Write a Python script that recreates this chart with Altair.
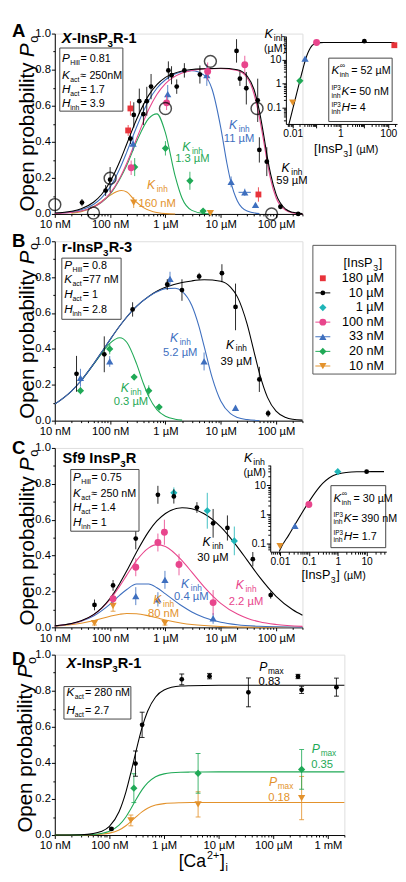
import altair as alt
import pandas as pd

FONT = "Liberation Sans"

# ------------------------------------------------------------------ tick labels
X_TICKS = [0.01, 0.1, 1, 10, 100, 1000]
X_TICK_LABELS = ["10 nM", "100 nM", "1 µM", "10 µM", "100 µM", "1 mM"]
Y_TICKS = [0.0, 0.2, 0.4, 0.6, 0.8, 1.0]
Y_TICK_LABELS = ["0.0", "0.2", "0.4", "0.6", "0.8", "1.0"]
INSET_A_X_TICKS = [0.01, 1, 100]
INSET_A_X_LABELS = ["0.01", "1", "100"]
INSET_C_X_TICKS = [0.01, 0.1, 1, 10]
INSET_C_X_LABELS = ["0.01", "0.1", "1", "10"]
INSET_Y_TICKS = [0.1, 1, 10]
INSET_Y_LABELS = ["0.1", "1", "10"]
LEGEND_LABELS = ["180 µM", "10 µM", "1 µM", "100 nM", "33 nM", "20 nM", "10 nM"]
LEGEND_HAS_LINE = [False, True, False, True, True, True, True]

# ------------------------------------------------------------------ panel A  (x: [Ca2+] in µM, y: Po)
A_10UM_X = [0.031, 0.083, 0.1, 0.233, 0.268, 0.337, 0.40, 0.46, 0.55, 1.13, 1.29, 1.6, 2.2, 4.2, 19.3, 22.2, 29, 46.6, 49.9, 68, 120, 251]
A_10UM_Y = [0.063, 0.13, 0.19, 0.418, 0.549, 0.625, 0.553, 0.625, 0.706, 0.796, 0.769, 0.706, 0.796, 0.773, 0.904, 0.75, 0.697, 0.63, 0.355, 0.29, 0.04, 0.0]
A_10UM_E = [0.02, 0.03, 0.07, 0.03, 0.07, 0.07, 0.06, 0.08, 0.07, 0.05, 0.05, 0.04, 0.04, 0.05, 0.065, 0.04, 0.09, 0.12, 0.07, 0.08, 0.01, 0.0]
A_180UM_X = [0.212, 0.233, 48]
A_180UM_Y = [0.463, 0.585, 0.108]
A_180UM_E = [0.03, 0.04, 0.04]
A_100NM_X = [0.24, 1.05, 5.8, 27.2]
A_100NM_Y = [0.256, 0.616, 0.79, 0.827]
A_100NM_E = [0.04, 0.04, 0.05, 0.05]
A_33NM_X = [0.26, 1.1, 5.6, 15.4, 27.2, 42.5]
A_33NM_Y = [0.39, 0.665, 0.77, 0.178, 0.12, 0.05]
A_33NM_E = [0.04, 0.05, 0.06, 0.03, 0.02, 0.01]
A_33NM_HBAR_X1 = [21.0]
A_33NM_HBAR_X2 = [35.0]
A_33NM_HBAR_Y = [0.12]
A_20NM_X = [0.278, 1.0, 2.77, 4.8]
A_20NM_Y = [0.26, 0.364, 0.184, 0.016]
A_20NM_E = [0.05, 0.04, 0.05, 0.01]
A_10NM_X = [0.267, 6.5]
A_10NM_Y = [0.063, 0.005]
A_10NM_E = [0.03, 0.005]
A_OPEN_X = [0.01, 0.05, 0.1, 1.0, 6.5, 45.3, 83]
A_OPEN_Y = [0.052, 0.005, 0.198, 0.585, 0.846, 0.585, 0.0]

A_FIT_10UM_X = [0.01, 0.02, 0.03, 0.05, 0.07, 0.1, 0.15, 0.2, 0.3, 0.5, 0.7, 1, 2, 3, 5, 10, 20, 30, 40, 50, 60, 70, 80, 100, 150, 200, 300]
A_FIT_10UM_Y = [0.005, 0.015, 0.029, 0.065, 0.108, 0.179, 0.292, 0.388, 0.524, 0.659, 0.717, 0.757, 0.793, 0.801, 0.805, 0.808, 0.80, 0.765, 0.69, 0.57, 0.435, 0.31, 0.22, 0.11, 0.026, 0.009, 0.002]
A_FIT_100NM_X = [0.01, 0.02, 0.03, 0.05, 0.07, 0.1, 0.15, 0.2, 0.3, 0.5, 0.7, 1, 2, 3, 5, 10, 20, 30, 40, 50, 60, 70, 80, 100, 150, 200, 300]
A_FIT_100NM_Y = [0.0026, 0.0085, 0.0168, 0.039, 0.0664, 0.114, 0.199, 0.281, 0.416, 0.58, 0.662, 0.722, 0.781, 0.795, 0.804, 0.806, 0.795, 0.755, 0.665, 0.535, 0.40, 0.28, 0.19, 0.09, 0.02, 0.006, 0.001]
A_FIT_33NM_X = [0.01, 0.02, 0.03, 0.05, 0.07, 0.1, 0.15, 0.2, 0.3, 0.5, 0.7, 1, 2, 3, 5, 7, 10, 13, 15, 20, 30, 50]
A_FIT_33NM_Y = [0.0036, 0.0117, 0.0229, 0.0526, 0.0888, 0.149, 0.252, 0.343, 0.481, 0.629, 0.697, 0.744, 0.788, 0.794, 0.770, 0.69, 0.479, 0.277, 0.186, 0.072, 0.016, 0.002]
A_FIT_20NM_X = [0.02, 0.03, 0.05, 0.07, 0.1, 0.15, 0.2, 0.3, 0.5, 0.7, 1, 1.5, 2, 3, 5, 7]
A_FIT_20NM_Y = [0.0084, 0.0165, 0.038, 0.065, 0.11, 0.194, 0.27, 0.40, 0.53, 0.555, 0.45, 0.21, 0.087, 0.02, 0.003, 0.001]
A_FIT_10NM_X = [0.02, 0.03, 0.05, 0.07, 0.1, 0.13, 0.16, 0.2, 0.27, 0.3, 0.4, 0.6, 1, 1.5]
A_FIT_10NM_Y = [0.004, 0.012, 0.04, 0.07, 0.103, 0.123, 0.13, 0.122, 0.08, 0.065, 0.035, 0.012, 0.002, 0.0]

# inset A: Kinh (µM) vs [InsP3] (µM)
IA_KEYS = ["10 nM", "20 nM", "33 nM", "100 nM", "10 µM", "180 µM"]
IA_X = [0.01, 0.02, 0.033, 0.1, 10, 180]
IA_Y = [0.16, 1.3, 11, 52, 59, 40]
IA_FIT_X = [0.007, 0.008, 0.01, 0.015, 0.02, 0.025, 0.03, 0.035, 0.04, 0.05, 0.06, 0.07, 0.08, 0.1, 0.15, 0.2, 1, 10, 180]
IA_FIT_Y = [0.02, 0.034, 0.083, 0.42, 1.3, 3.1, 6.2, 10.3, 15.6, 26, 35.1, 41.3, 45.1, 48.9, 51.4, 51.8, 52, 52, 52]

# ------------------------------------------------------------------ panel B
B_10UM_X = [0.0247, 0.0784, 0.255, 1.08, 1.99, 4.07, 10.5, 18.5, 49.9, 71.9]
B_10UM_Y = [0.261, 0.37, 0.62, 0.759, 0.728, 0.804, 0.822, 0.634, 0.23, 0.04]
B_10UM_E = [0.1, 0.1, 0.04, 0.03, 0.06, 0.02, 0.05, 0.13, 0.07, 0.02]
B_33NM_X = [0.0291, 0.0984, 1.21, 5.0, 18.5]
B_33NM_Y = [0.239, 0.33, 0.79, 0.33, 0.072]
B_33NM_E = [0.05, 0.03, 0.04, 0.05, 0.01]
B_20NM_X = [0.0291, 0.0984, 0.272, 0.50, 0.77]
B_20NM_Y = [0.167, 0.40, 0.243, 0.167, 0.076]
B_20NM_E = [0.02, 0.03, 0.015, 0.03, 0.015]

B_FIT_10UM_X = [0.01, 0.02, 0.03, 0.05, 0.07, 0.1, 0.15, 0.2, 0.3, 0.5, 0.7, 1, 2, 3, 5, 10, 15, 20, 30, 40, 50, 70, 100, 150, 200, 300]
B_FIT_10UM_Y = [0.092, 0.165, 0.224, 0.315, 0.381, 0.452, 0.529, 0.578, 0.637, 0.693, 0.721, 0.743, 0.770, 0.779, 0.785, 0.777, 0.744, 0.690, 0.538, 0.384, 0.265, 0.13, 0.053, 0.018, 0.008, 0.003]
B_FIT_33NM_X = [0.01, 0.02, 0.03, 0.05, 0.07, 0.1, 0.15, 0.2, 0.3, 0.5, 0.7, 1, 1.5, 2, 3, 4, 5, 7, 10, 15, 20, 30, 50]
B_FIT_33NM_Y = [0.092, 0.165, 0.224, 0.315, 0.381, 0.452, 0.529, 0.578, 0.637, 0.692, 0.718, 0.736, 0.738, 0.721, 0.642, 0.53, 0.416, 0.24, 0.11, 0.039, 0.018, 0.006, 0.001]
B_FIT_20NM_X = [0.03, 0.05, 0.07, 0.1, 0.15, 0.2, 0.3, 0.4, 0.5, 0.7, 1, 1.5, 2]
B_FIT_20NM_Y = [0.222, 0.313, 0.374, 0.432, 0.462, 0.437, 0.318, 0.207, 0.134, 0.062, 0.025, 0.008, 0.003]

# ------------------------------------------------------------------ panel C
C_10UM_X = [0.0522, 0.113, 0.291, 0.731, 1.42, 3.71, 7.28, 13.2, 38, 80]
C_10UM_Y = [0.125, 0.234, 0.495, 0.739, 0.73, 0.668, 0.58, 0.554, 0.38, 0.18]
C_10UM_E = [0.03, 0.03, 0.06, 0.05, 0.04, 0.03, 0.08, 0.07, 0.04, 0.02]
C_1UM_X = [1.42, 5.71, 17.6]
C_1UM_Y = [0.75, 0.65, 0.482]
C_1UM_E = [0.03, 0.1, 0.08]
C_100NM_X = [0.113, 0.291, 0.731, 0.958, 1.76, 7.28]
C_100NM_Y = [0.16, 0.335, 0.473, 0.53, 0.35, 0.138]
C_100NM_E = [0.03, 0.05, 0.05, 0.07, 0.06, 0.07]
C_33NM_X = [0.291, 0.731, 0.98, 7.28]
C_33NM_Y = [0.174, 0.156, 0.265, 0.05]
C_33NM_E = [0.05, 0.04, 0.05, 0.03]
C_10NM_X = [0.0522, 0.113, 0.98]
C_10NM_Y = [0.023, 0.12, 0.023]
C_10NM_E = [0.01, 0.03, 0.01]

C_FIT_10UM_X = [0.01, 0.02, 0.03, 0.05, 0.07, 0.1, 0.15, 0.2, 0.3, 0.5, 0.7, 1, 2, 3, 5, 10, 20, 30, 50, 100, 200, 300]
C_FIT_10UM_Y = [0.0082, 0.0212, 0.0366, 0.0712, 0.1076, 0.162, 0.246, 0.315, 0.419, 0.535, 0.593, 0.635, 0.667, 0.661, 0.633, 0.56, 0.449, 0.375, 0.281, 0.173, 0.098, 0.068]
C_FIT_100NM_X = [0.01, 0.03, 0.05, 0.1, 0.15, 0.2, 0.3, 0.5, 0.7, 1, 2, 3, 5, 10, 20, 30, 50, 100, 300]
C_FIT_100NM_Y = [0.0082, 0.0361, 0.0697, 0.156, 0.231, 0.291, 0.372, 0.443, 0.461, 0.451, 0.372, 0.308, 0.226, 0.134, 0.074, 0.051, 0.031, 0.016, 0.0055]
C_FIT_33NM_X = [0.01, 0.03, 0.05, 0.1, 0.15, 0.2, 0.3, 0.5, 0.7, 1, 2, 3, 5, 10, 20, 50, 100, 300]
C_FIT_33NM_Y = [0.008, 0.034, 0.0634, 0.130, 0.18, 0.211, 0.242, 0.242, 0.221, 0.187, 0.119, 0.086, 0.055, 0.029, 0.015, 0.006, 0.003, 0.001]
C_FIT_10NM_X = [0.01, 0.03, 0.05, 0.1, 0.15, 0.2, 0.3, 0.5, 0.7, 1, 2, 3, 5, 10, 20, 50, 100, 300]
C_FIT_10NM_Y = [0.006, 0.023, 0.037, 0.062, 0.073, 0.077, 0.076, 0.064, 0.053, 0.041, 0.023, 0.016, 0.01, 0.005, 0.0025, 0.001, 0.0005, 0.0002]

# inset C
IC_KEYS = ["10 nM", "33 nM", "100 nM", "1 µM", "10 µM"]
IC_X = [0.01, 0.033, 0.1, 1, 10]
IC_Y = [0.08, 0.4, 2.2, 30, 30]
IC_FIT_X = [0.0095, 0.01, 0.02, 0.033, 0.05, 0.1, 0.2, 0.3, 0.5, 0.7, 1, 2, 3, 5, 10, 20, 40]
IC_FIT_Y = [0.052, 0.059, 0.191, 0.444, 0.886, 2.7, 7.29, 11.7, 18.1, 21.9, 25, 28.2, 29.1, 29.6, 29.9, 30, 30]

# ------------------------------------------------------------------ panel D
D_10UM_X = [0.1086, 0.30, 0.397, 2.11, 6.8, 35, 283, 330, 1430]
D_10UM_Y = [0.034, 0.396, 0.611, 0.863, 0.881, 0.791, 0.879, 0.805, 0.82]
D_10UM_E = [0.005, 0.07, 0.07, 0.03, 0.015, 0.08, 0.012, 0.02, 0.05]
D_20NM_X = [0.28, 4.2, 330]
D_20NM_Y = [0.26, 0.342, 0.364]
D_20NM_E = [0.08, 0.11, 0.11]
D_10NM_X = [0.247, 4.2, 330]
D_10NM_Y = [0.081, 0.17, 0.205]
D_10NM_E = [0.03, 0.07, 0.12]
D_FIT_X = [0.01, 0.03, 0.05, 0.07, 0.1, 0.15, 0.2, 0.25, 0.3, 0.4, 0.5, 0.7, 1, 2, 3, 10, 100, 2000]
D_FIT_10UM_Y = [0.0001, 0.002, 0.0078, 0.0192, 0.0486, 0.129, 0.238, 0.352, 0.453, 0.601, 0.686, 0.765, 0.804, 0.826, 0.828, 0.83, 0.83, 0.83]
D_FIT_20NM_Y = [0.0, 0.0008, 0.0033, 0.0081, 0.0205, 0.0546, 0.10, 0.148, 0.191, 0.253, 0.289, 0.323, 0.339, 0.348, 0.349, 0.35, 0.35, 0.35]
D_FIT_10NM_Y = [0.0, 0.0004, 0.0017, 0.0042, 0.0105, 0.028, 0.0517, 0.0763, 0.098, 0.13, 0.149, 0.166, 0.174, 0.179, 0.18, 0.18, 0.18, 0.18]

# ------------------------------------------------------------------ styles
BLACK = "#000000"
RED = "#e8333a"
PINK = "#e8458c"
BLUE = "#3e6fbf"
GREEN = "#1fa956"
ORANGE = "#e3922c"
CYAN = "#1fb5b8"
STY = {
    "180 µM": (RED, "square", 36),
    "10 µM": (BLACK, "circle", 24),
    "1 µM": (CYAN, "diamond", 55),
    "100 nM": (PINK, "circle", 50),
    "33 nM": (BLUE, "triangle-up", 55),
    "20 nM": (GREEN, "diamond", 55),
    "10 nM": (ORANGE, "triangle-down", 55),
}

MAJOR_LOG = "abs(log(datum.value)/LN10 - round(log(datum.value)/LN10)) < 0.001"
MAJOR_LIN = "abs(datum.value*5 - round(datum.value*5)) < 0.001"


def log_ticks(lo, hi):
    out = []
    for k in range(-4, 5):
        for m in range(1, 10):
            v = float(f"{m * 10.0 ** k:.6g}")
            if lo * 0.999 <= v <= hi * 1.001:
                out.append(v)
    return out


def lbl_expr(vals, labels):
    s = ""
    for v, l in zip(vals, labels):
        s += f"abs(datum.value - {v}) < {abs(v) * 1e-3 + 1e-9} ? '{l}' : "
    return s + "''"


def make_axis(values, lab_vals, labels, test, orient, offset=None, lsize=11.5, tmaj=3.5, tmin=2, lpad=1.5):
    kw = dict(values=values, labelExpr=lbl_expr(lab_vals, labels),
              tickSize={"condition": {"test": test, "value": tmaj}, "value": tmin},
              orient=orient, title=None, grid=False, labelOverlap=False, labelFlush=False,
              labelFont=FONT, labelFontSize=lsize, labelColor="black",
              tickColor="black", domainColor="black", tickWidth=1, domainWidth=1, labelPadding=lpad)
    if offset is not None:
        kw["offset"] = offset
    return alt.Axis(**kw)


class Panel:
    def __init__(self, xs, ys, xa, ya):
        self.xs, self.ys, self.xa, self.ya = xs, ys, xa, ya

    def X(self, f="x"):
        return alt.X(f"{f}:Q", scale=self.xs, axis=self.xa)

    def Y(self, f="y"):
        return alt.Y(f"{f}:Q", scale=self.ys, axis=self.ya)


def seg(x, y, t, c=BLACK, size=11, style="normal", weight="normal", dx=0, dy=0, align="left", angle=0):
    return dict(x=x, y=y, t=t, c=c, size=size, style=style, weight=weight, dx=dx, dy=dy, align=align, angle=angle)


def text_layers(segs, P):
    groups = {}
    for s in segs:
        key = (s["size"], s["style"], s["weight"], s["dx"], s["dy"], s["align"], s["angle"])
        groups.setdefault(key, []).append(s)
    out = []
    for (size, style, weight, dx, dy, align, angle), items in groups.items():
        df = pd.DataFrame({"x": [i["x"] for i in items], "y": [i["y"] for i in items],
                           "t": [i["t"] for i in items], "c": [i["c"] for i in items]})
        m = alt.Chart(df).mark_text(font=FONT, fontSize=size, fontStyle=style, fontWeight=weight,
                                    dx=dx, dy=dy, align=align, baseline="alphabetic", angle=angle)
        out.append(m.encode(x=P.X(), y=P.Y(), text="t:N", color=alt.Color("c:N", scale=None)))
    return out


def curve(xs, ys, color, P, width=1.1):
    df = pd.DataFrame({"x": xs, "y": ys})
    return alt.Chart(df).mark_line(color=color, strokeWidth=width, interpolate="monotone").encode(x=P.X(), y=P.Y())


def series(xs, ys, es, key, P, caps=False):
    color, shape, size = STY[key]
    df = pd.DataFrame({"x": xs, "y": ys,
                       "lo": [a - b for a, b in zip(ys, es)],
                       "hi": [a + b for a, b in zip(ys, es)]})
    out = [alt.Chart(df).mark_rule(color=color, strokeWidth=1, opacity=0.85).encode(
        x=P.X(), y=P.Y("lo"), y2=alt.Y2("hi:Q"))]
    if caps:
        for f in ("lo", "hi"):
            out.append(alt.Chart(df).mark_tick(color=color, orient="horizontal", size=5, thickness=1,
                                               opacity=0.85).encode(x=P.X(), y=P.Y(f)))
    out.append(alt.Chart(df).mark_point(shape=shape, filled=True, size=size, color=color, opacity=1,
                                        strokeWidth=0).encode(x=P.X(), y=P.Y()))
    return out


def box(x1, x2, y1, y2, P, stroke="#444444"):
    df = pd.DataFrame({"x": [x1], "x2": [x2], "y": [y1], "y2": [y2]})
    return alt.Chart(df).mark_rect(fill="white", stroke=stroke, strokeWidth=1).encode(
        x=P.X(), x2=alt.X2("x2:Q"), y=P.Y(), y2=alt.Y2("y2:Q"))


def kinh(x, y1, y2, val, c, letter="K", sub="inh", subw=-0.5):
    return [seg(x, y1, letter, c, 12.5, "italic", dx=-10.5),
            seg(x, y1, sub, c, 8.5, dx=subw, dy=3),
            seg(x, y2, val, c, 11.5, align="center")]


def params(x, ys, rows):
    out = []
    for y, (L, S, R) in zip(ys, rows):
        out += [seg(x, y, L, size=12, style="italic"), seg(x, y, S, size=7, dx=8.5, dy=3),
                seg(x, y, R, size=11, dx=19)]
    return out


def bold_title(x, y, parts):
    out = []
    for t, dx, sub, it in parts:
        out.append(seg(x, y, t, size=10 if sub else 15, weight="bold", style="italic" if it else "normal",
                       dx=dx, dy=4 if sub else 0))
    return out


def ytitle(x):
    return [seg(x, 0.5, "Open probability", size=21, dx=-90, angle=270),
            seg(x, 0.5, "P", size=21, style="italic", dx=68.5, angle=270),
            seg(x, 0.5, "o", size=13, dx=83, dy=4, angle=270)]


def letter(x, y, t):
    return [seg(x, y, t, size=19, weight="bold")]


def inset_params(x, ys, kinf, kval, hval):
    return [seg(x, ys[0], "K", size=12, style="italic"), seg(x, ys[0], "∞", size=8, dx=8.5, dy=-6),
            seg(x, ys[0], "inh", size=7, dx=8.5, dy=3), seg(x, ys[0], "= " + kinf, size=11, dx=20.5),
            seg(x, ys[1], "IP3", size=6.5, dy=-5), seg(x, ys[1], "inh", size=7, dy=3),
            seg(x, ys[1], "K", size=12, style="italic", dx=10.5), seg(x, ys[1], "= " + kval, size=11, dx=19),
            seg(x, ys[2], "IP3", size=6.5, dy=-5), seg(x, ys[2], "inh", size=7, dy=3),
            seg(x, ys[2], "H", size=12, style="italic", dx=10.5), seg(x, ys[2], "= " + hval, size=11, dx=19.5)]


def inset_titles(xmin, ky, uy, kdx, udx, tx, ty):
    return [seg(xmin, ky, "K", size=13, style="italic", dx=kdx),
            seg(xmin, ky, "inh", size=9, dx=kdx + 9.5, dy=3),
            seg(xmin, uy, "(µM)", size=11, dx=udx, align="center"),
            seg(tx, ty, "[InsP", size=13), seg(tx, ty, "3", size=9, dx=30, dy=4),
            seg(tx, ty, "]", size=13, dx=35.5), seg(tx, ty, "(µM)", size=11, dx=43)]


def inset_points(keys, xs, ys, P):
    out = []
    for k, x, y in zip(keys, xs, ys):
        color, shape, size = STY[k]
        df = pd.DataFrame({"x": [x], "y": [y]})
        out.append(alt.Chart(df).mark_point(shape=shape, filled=True, size=size, color=color, opacity=1,
                                            strokeWidth=0).encode(x=P.X(), y=P.Y()))
    return out


Y_VALUES = [round(i * 0.1, 1) for i in range(11)]
YAX = make_axis(Y_VALUES, Y_TICKS, Y_TICK_LABELS, MAJOR_LIN, "left", lpad=1)


def main_panel(hi):
    return Panel(alt.Scale(type="log", domain=[0.01, hi], nice=False),
                 alt.Scale(domain=[0, 1], nice=False, zero=False),
                 make_axis(log_ticks(0.01, hi), X_TICKS, X_TICK_LABELS, MAJOR_LOG, "bottom"), YAX)


# ================================================================== panel A
PA = main_panel(300)
a = []
a.append(curve(A_FIT_10NM_X, A_FIT_10NM_Y, ORANGE, PA))
a.append(curve(A_FIT_20NM_X, A_FIT_20NM_Y, GREEN, PA))
a.append(curve(A_FIT_33NM_X, A_FIT_33NM_Y, BLUE, PA))
a.append(curve(A_FIT_100NM_X, A_FIT_100NM_Y, PINK, PA))
a.append(curve(A_FIT_10UM_X, A_FIT_10UM_Y, BLACK, PA))
hb = pd.DataFrame({"x": A_33NM_HBAR_X1, "x2": A_33NM_HBAR_X2, "y": A_33NM_HBAR_Y})
a.append(alt.Chart(hb).mark_rule(color=BLUE, strokeWidth=1).encode(x=PA.X(), x2=alt.X2("x2:Q"), y=PA.Y()))
a += series(A_10NM_X, A_10NM_Y, A_10NM_E, "10 nM", PA)
a += series(A_20NM_X, A_20NM_Y, A_20NM_E, "20 nM", PA)
a += series(A_33NM_X, A_33NM_Y, A_33NM_E, "33 nM", PA)
a += series(A_100NM_X, A_100NM_Y, A_100NM_E, "100 nM", PA)
a += series(A_180UM_X, A_180UM_Y, A_180UM_E, "180 µM", PA)
a += series(A_10UM_X, A_10UM_Y, A_10UM_E, "10 µM", PA)
a.append(alt.Chart(pd.DataFrame({"x": A_OPEN_X, "y": A_OPEN_Y})).mark_point(
    shape="circle", filled=False, size=150, color=BLACK, strokeWidth=1.5).encode(x=PA.X(), y=PA.Y()))
a.append(box(0.0123, 0.17, 0.57, 0.92, PA))
segsA = []
segsA += letter(0.00168, 0.98, "A")
segsA += ytitle(0.00426)
segsA += bold_title(0.0134, 0.95, [("X", 0, False, True), ("-InsP", 10.5, False, False),
                                   ("3", 46.8, True, False), ("R-1", 52.5, False, False)])
segsA += params(0.0135, [0.841, 0.748, 0.67, 0.592],
                [("P", "Hill", "= 0.81"), ("K", "act", "≈ 250nM"), ("H", "act", "= 1.7"), ("H", "inh", "= 3.9")])
segsA += kinh(0.711, 0.138, 0.039, "160 nM", ORANGE)
segsA += kinh(3.07, 0.351, 0.288, "1.3 µM", GREEN)
segsA += kinh(21.5, 0.472, 0.40, "11 µM", BLUE)
segsA += kinh(193, 0.232, 0.165, "59 µM", BLACK)
a += text_layers(segsA, PA)
a_main = alt.layer(*a)

PIA = Panel(alt.Scale(type="log", domain=[0.0052, 233], range=[237, 351], nice=False),
            alt.Scale(type="log", domain=[0.0203, 95], range=[92.7, 2.7], nice=False),
            make_axis(log_ticks(0.0052, 233), INSET_A_X_TICKS, INSET_A_X_LABELS, MAJOR_LOG, "bottom",
                      offset=-92.3, lsize=10.5, tmaj=4, tmin=2.5, lpad=1),
            make_axis(log_ticks(0.0203, 95), INSET_Y_TICKS, INSET_Y_LABELS, MAJOR_LOG, "left",
                      offset=-237, lsize=10.5, tmaj=4, tmin=2.5, lpad=1))
ia = [curve(IA_FIT_X, IA_FIT_Y, BLACK, PIA)]
ia += inset_points(IA_KEYS, IA_X, IA_Y, PIA)
ia.append(box(0.324, 145.6, 0.0257, 11.5, PIA))
segsIA = inset_params(0.417, [2.49, 0.324, 0.0675], "52 µM", "50 nM", "4")
segsIA += inset_titles(0.0052, 82.9, 20.2, -22, -11, 0.079, 0.00126)
ia += text_layers(segsIA, PIA)
a_inset = alt.layer(*ia)
rowA = alt.layer(a_main, a_inset).resolve_scale(x="independent", y="independent").properties(width=254, height=185)

# ================================================================== panel B
PB = main_panel(300)
b = []
b.append(curve(B_FIT_20NM_X, B_FIT_20NM_Y, GREEN, PB))
b.append(curve(B_FIT_10UM_X, B_FIT_10UM_Y, BLACK, PB))
b.append(curve(B_FIT_33NM_X, B_FIT_33NM_Y, BLUE, PB))
b += series(B_20NM_X, B_20NM_Y, B_20NM_E, "20 nM", PB)
b += series(B_33NM_X, B_33NM_Y, B_33NM_E, "33 nM", PB)
b += series(B_10UM_X, B_10UM_Y, B_10UM_E, "10 µM", PB)
b.append(box(0.0134, 0.158, 0.565, 0.906, PB))
segsB = []
segsB += letter(0.00168, 0.967, "B")
segsB += ytitle(0.00426)
segsB += bold_title(0.0133, 0.942, [("r-InsP", 0, False, False), ("3", 42.5, True, False), ("R-3", 48.2, False, False)])
segsB += params(0.0148, [0.846, 0.765, 0.683, 0.602],
                [("P", "Hill", "= 0.8"), ("K", "act", "=77 nM"), ("H", "act", "=  1"), ("H", "inh", "=  2.8")])
segsB += kinh(0.238, 0.158, 0.085, "0.3 µM", GREEN)
segsB += kinh(1.85, 0.438, 0.362, "5.2 µM", BLUE)
segsB += kinh(19.1, 0.402, 0.311, "39 µM", BLACK)
b += text_layers(segsB, PB)
b_main = alt.layer(*b)

PL = Panel(alt.Scale(domain=[0, 1], range=[264.7, 349.7], nice=False, zero=False),
           alt.Scale(domain=[0, 7], range=[26.7, 131.7], nice=False, zero=False), None, None)
lg = [box(0, 1, -1.5, 7.3, PL, stroke="#555555")]
rows = list(range(1, len(LEGEND_LABELS) + 1))
ldf = pd.DataFrame({
    "x": [0.12] * len(rows),
    "y": [r - 0.25 for r in rows],
    "s": [STY[k][1] for k in LEGEND_LABELS],
    "c": [STY[k][0] for k in LEGEND_LABELS],
    "z": [STY[k][2] for k in LEGEND_LABELS],
    "line": LEGEND_HAS_LINE,
})
lines_df = ldf[ldf["line"]].assign(x=0.03, x2=0.21)
lg.append(alt.Chart(lines_df).mark_rule(strokeWidth=1).encode(
    x=PL.X(), x2=alt.X2("x2:Q"), y=PL.Y(), color=alt.Color("c:N", scale=None)))
lg.append(alt.Chart(ldf).mark_point(filled=True, opacity=1, strokeWidth=0).encode(
    x=PL.X(), y=PL.Y(), shape=alt.Shape("s:N", scale=None), color=alt.Color("c:N", scale=None),
    size=alt.Size("z:Q", scale=None)))
segsL = [seg(0.86, r, lab, size=13, align="right") for r, lab in zip(rows, LEGEND_LABELS)]
segsL += [seg(0.6, 0, "[InsP", size=13, dx=-19.5), seg(0.6, 0, "3", size=9, dx=11, dy=4),
          seg(0.6, 0, "]", size=13, dx=16.5)]
lg += text_layers(segsL, PL)
b_leg = alt.layer(*lg)
rowB = alt.layer(b_main, b_leg).resolve_scale(x="independent", y="independent").properties(width=254, height=184)

# ================================================================== panel C
PC = main_panel(300)
c = []
c.append(curve(C_FIT_10NM_X, C_FIT_10NM_Y, ORANGE, PC))
c.append(curve(C_FIT_33NM_X, C_FIT_33NM_Y, BLUE, PC))
c.append(curve(C_FIT_100NM_X, C_FIT_100NM_Y, PINK, PC))
c.append(curve(C_FIT_10UM_X, C_FIT_10UM_Y, BLACK, PC))
c += series(C_10NM_X, C_10NM_Y, C_10NM_E, "10 nM", PC, caps=True)
c += series(C_33NM_X, C_33NM_Y, C_33NM_E, "33 nM", PC)
c += series(C_100NM_X, C_100NM_Y, C_100NM_E, "100 nM", PC)
c += series(C_1UM_X, C_1UM_Y, C_1UM_E, "1 µM", PC)
c += series(C_10UM_X, C_10UM_Y, C_10UM_E, "10 µM", PC)
c.append(box(0.0194, 0.333, 0.536, 0.88, PC))
segsC = []
segsC += letter(0.00168, 0.966, "C")
segsC += ytitle(0.00426)
segsC += bold_title(0.0138, 0.917, [("Sf9 InsP", 0, False, False), ("3", 59.2, True, False), ("R", 64.8, False, False)])
segsC += params(0.0214, [0.817, 0.727, 0.649, 0.567],
                [("P", "Hill", "= 0.75"), ("K", "act", "≈ 250 nM"), ("H", "act", "= 1.4"), ("H", "inh", "= 1")])
segsC += kinh(7.2, 0.455, 0.368, "30 µM", BLACK)
segsC += kinh(2.94, 0.219, 0.15, "0.4 µM", BLUE)
segsC += kinh(0.925, 0.129, 0.06, "80 nM", ORANGE)
segsC += kinh(28.6, 0.216, 0.125, "2.2 µM", PINK)
c += text_layers(segsC, PC)
c_main = alt.layer(*c)

PIC = Panel(alt.Scale(type="log", domain=[0.0046, 48], range=[221, 340], nice=False),
            alt.Scale(type="log", domain=[0.051, 50], range=[106.4, 17.7], nice=False),
            make_axis(log_ticks(0.0046, 48), INSET_C_X_TICKS, INSET_C_X_LABELS, MAJOR_LOG, "bottom",
                      offset=-77.6, lsize=10.5, tmaj=4, tmin=2.5, lpad=1),
            make_axis(log_ticks(0.051, 50), INSET_Y_TICKS, INSET_Y_LABELS, MAJOR_LOG, "left",
                      offset=-221, lsize=10.5, tmaj=4, tmin=2.5, lpad=1))
ic = [curve(IC_FIT_X, IC_FIT_Y, BLACK, PIC)]
ic += inset_points(IC_KEYS, IC_X, IC_Y, PIC)
ic.append(box(0.58, 45.8, 0.0704, 9.83, PIC))
segsIC = inset_params(0.715, [2.7, 0.565, 0.134], "30 µM", "390 nM", "1.7")
segsIC += inset_titles(0.0046, 62.6, 21, -27, -16, 0.0557, 0.00593)
ic += text_layers(segsIC, PIC)
c_inset = alt.layer(*ic)
rowC = alt.layer(c_main, c_inset).resolve_scale(x="independent", y="independent").properties(width=254, height=184)

# ================================================================== panel D
PD = main_panel(2000)
d = []
d.append(curve(D_FIT_X, D_FIT_10NM_Y, ORANGE, PD))
d.append(curve(D_FIT_X, D_FIT_20NM_Y, GREEN, PD))
d.append(curve(D_FIT_X, D_FIT_10UM_Y, BLACK, PD))
d += series(D_10NM_X, D_10NM_Y, D_10NM_E, "10 nM", PD, caps=True)
d += series(D_20NM_X, D_20NM_Y, D_20NM_E, "20 nM", PD, caps=True)
d += series(D_10UM_X, D_10UM_Y, D_10UM_E, "10 µM", PD, caps=True)
d.append(box(0.0147, 0.247, 0.643, 0.823, PD))
segsD = []
segsD += letter(0.00164, 0.94, "D")
segsD += ytitle(0.00389)
segsD += bold_title(0.0164, 0.924, [("X", 0, False, True), ("-InsP", 10.5, False, False),
                                   ("3", 46.8, True, False), ("R-1", 52.5, False, False)])
segsD += params(0.0164, [0.769, 0.67], [("K", "act", "= 280 nM"), ("H", "act", "= 2.7")])
segsD += kinh(85, 0.91, 0.832, "0.83", BLACK, letter="P", sub="max", subw=-1.5)
segsD += kinh(782, 0.454, 0.369, "0.35", GREEN, letter="P", sub="max", subw=-1.5)
segsD += kinh(128, 0.274, 0.189, "0.18", ORANGE, letter="P", sub="max", subw=-1.5)
segsD += [seg(1.85, -0.177, "[Ca", size=18), seg(1.85, -0.177, "2+", size=11, dx=29, dy=-8),
          seg(1.85, -0.177, "]", size=18, dx=42.5), seg(1.85, -0.177, "i", size=11, dx=48, dy=4)]
d += text_layers(segsD, PD)
rowD = alt.layer(*d).properties(width=297, height=185)

chart = alt.vconcat(rowA, rowB, rowC, rowD, spacing=28, bounds="flush",
                    padding={"left": 3, "top": 3, "right": 0, "bottom": 0}).configure_view(
    stroke=None).configure(font=FONT)

chart.save("out.html", embed_options={"renderer": "svg", "actions": False})
